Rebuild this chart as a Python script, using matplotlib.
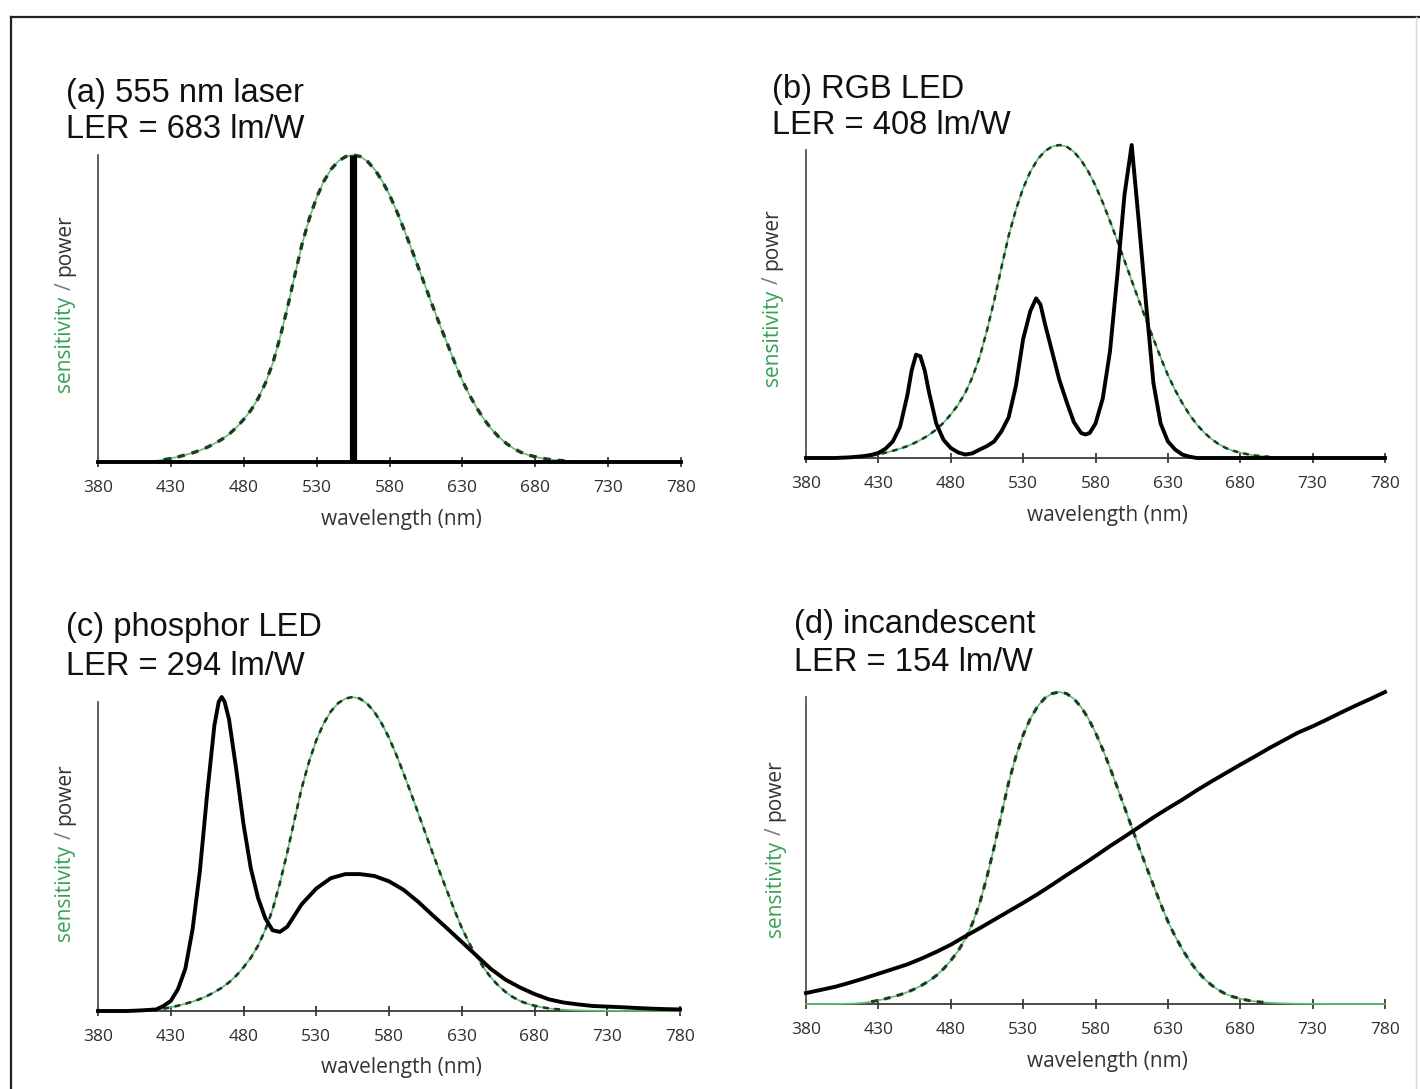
import numpy as np
import matplotlib
matplotlib.use("Agg")
import matplotlib.pyplot as plt
from matplotlib.lines import Line2D

# ---------------- data ----------------
ticks = [380, 430, 480, 530, 580, 630, 680, 730, 780]
tick_labels = [str(t) for t in ticks]

# eye sensitivity (photopic), 5 nm steps 380..780
v_wl = list(range(380, 785, 5))
v_sens = [0.000039, 0.000064, 0.00012, 0.000217, 0.000396, 0.00064, 0.00121, 0.00218,
          0.004, 0.0073, 0.0116, 0.01684, 0.023, 0.0298, 0.038, 0.048, 0.06, 0.0739,
          0.09098, 0.1126, 0.13902, 0.1693, 0.20802, 0.2586, 0.323, 0.4073, 0.503,
          0.6082, 0.71, 0.7932, 0.862, 0.91485, 0.954, 0.9803, 0.99495, 1.0, 0.995,
          0.9786, 0.952, 0.9154, 0.87, 0.8163, 0.757, 0.6949, 0.631, 0.5668, 0.503,
          0.4412, 0.381, 0.321, 0.265, 0.217, 0.175, 0.1382, 0.107, 0.0816, 0.061,
          0.04458, 0.032, 0.0232, 0.017, 0.01192, 0.00821, 0.005723, 0.004102,
          0.002929, 0.002091, 0.001484, 0.001047, 0.00074, 0.00052, 0.000361,
          0.000249, 0.000172, 0.00012, 0.0000848, 0.00006, 0.0000424, 0.00003,
          0.0000212, 0.000015]

# (a) laser
laser_wl = 555
laser_power = 1.0

# (b) RGB LED
rgb_wl = [380, 400, 410, 420, 425, 430, 435, 440, 445, 450, 453, 456, 459, 462, 465,
          470, 475, 480, 485, 490, 495, 500, 505, 510, 515, 520, 525, 530, 535, 539,
          542, 545, 550, 555, 560, 565, 570, 573, 576, 580, 585, 590, 595, 600, 605,
          610, 615, 620, 625, 630, 635, 640, 645, 650, 780]
rgb_pw = [0.0, 0.0, 0.002, 0.006, 0.01, 0.016, 0.03, 0.053, 0.10, 0.20, 0.28, 0.33,
          0.325, 0.28, 0.21, 0.11, 0.058, 0.032, 0.018, 0.011, 0.015, 0.027, 0.038,
          0.053, 0.085, 0.13, 0.23, 0.38, 0.47, 0.51, 0.49, 0.43, 0.34, 0.25, 0.18,
          0.115, 0.08, 0.075, 0.08, 0.11, 0.19, 0.34, 0.58, 0.84, 1.0, 0.75, 0.49,
          0.24, 0.11, 0.053, 0.027, 0.011, 0.004, 0.0, 0.0]

# (c) phosphor LED
ph_wl = [380, 400, 410, 420, 425, 430, 435, 440, 445, 450, 455, 460, 463, 465, 467,
         470, 475, 480, 485, 490, 495, 500, 505, 510, 520, 530, 540, 550, 560, 570,
         580, 590, 600, 610, 620, 630, 640, 650, 660, 670, 680, 690, 700, 710, 720,
         730, 740, 750, 760, 770, 780]
ph_pw = [0.0, 0.0, 0.002, 0.005, 0.016, 0.032, 0.07, 0.134, 0.26, 0.445, 0.69, 0.91,
         0.985, 1.0, 0.985, 0.93, 0.77, 0.595, 0.455, 0.36, 0.295, 0.257, 0.252, 0.268,
         0.34, 0.39, 0.423, 0.436, 0.436, 0.43, 0.413, 0.386, 0.348, 0.305, 0.263,
         0.22, 0.177, 0.134, 0.10, 0.075, 0.054, 0.037, 0.027, 0.021, 0.016, 0.014,
         0.012, 0.0096, 0.0075, 0.006, 0.005]

# (d) incandescent
inc_wl = list(range(380, 790, 10))
inc_pw = [0.035, 0.045, 0.055, 0.068, 0.082, 0.097, 0.112, 0.127, 0.146, 0.167, 0.19,
          0.217, 0.243, 0.27, 0.297, 0.324, 0.352, 0.382, 0.413, 0.443, 0.474, 0.506,
          0.536, 0.567, 0.598, 0.627, 0.655, 0.685, 0.713, 0.74, 0.767, 0.793, 0.82,
          0.845, 0.87, 0.89, 0.912, 0.935, 0.957, 0.978, 1.0]

titles = [("(a) 555 nm laser", "LER = 683 lm/W"),
          ("(b) RGB LED", "LER = 408 lm/W"),
          ("(c) phosphor LED", "LER = 294 lm/W"),
          ("(d) incandescent", "LER = 154 lm/W")]

# ---------------- layout (pixels) ----------------
W, H = 1420, 1089
fig = plt.figure(figsize=(W / 100, H / 100), dpi=100)
fig.patch.set_facecolor("white")

boxes = [(98, 681, 462, 155), (806, 1385, 458, 145), (98, 680, 1011, 697), (806, 1385, 1004, 692)]
title_pos = [((66, 102), (66, 138)), ((772, 98), (772, 134)),
             ((66, 636), (66, 675)), ((794, 633), (794, 671))]
ylab_pos = [(65, 303), (772, 297), (65, 852), (775, 848)]
dash_lw = [2.4, 1.8, 1.9, 2.2]

TFONT = ["Liberation Sans", "DejaVu Sans"]
LFONT = ["Open Sans", "DejaVu Sans"]
GREEN_TXT = "#33a154"
DASH_COL = "#1d3a24"
UNDER_COL = "#5cc46e"
AX_COL = "#3a3a3a"

# frame around the figure
fig.add_artist(Line2D([11 / W, 1.0], [1 - 17 / H, 1 - 17 / H], color="#222222", lw=1.6))
fig.add_artist(Line2D([11 / W, 11 / W], [0.0, 1 - 17 / H], color="#222222", lw=1.6))
fig.add_artist(Line2D([1416 / W, 1416 / W], [0.0, 1 - 17 / H], color="#d5d5d5", lw=1.0))

renderer = fig.canvas.get_renderer()


def ylabel(xc, yc, fs=15):
    parts = [("sensitivity", GREEN_TXT), ("/", "#777777"), ("power", "#333333")]
    gap = 0.30 * fs * 100 / 72
    objs, lens = [], []
    for s, c in parts:
        t = fig.text(0, 0, s, rotation=90, rotation_mode="anchor", ha="left", va="center",
                     color=c, fontsize=fs, family=LFONT)
        lens.append(t.get_window_extent(renderer).height)
        objs.append(t)
    total = sum(lens) + gap * (len(parts) - 1)
    y = (H - yc) - total / 2
    for t, L in zip(objs, lens):
        t.set_position((xc / W, y / H))
        y += L + gap


v_wl_arr = np.array(v_wl)
v_arr = np.array(v_sens)
visible = v_arr > 0.004  # dark dashes only where the curve rises off the axis

axes = []
for i, (l, r, b, t) in enumerate(boxes):
    ax = fig.add_axes([l / W, 1 - b / H, (r - l) / W, (b - t) / H])
    ax.set_xlim(380, 780)
    ax.set_ylim(0, 1)
    for s in ("top", "right"):
        ax.spines[s].set_visible(False)
    ax.spines["left"].set_color("#555555")
    ax.spines["left"].set_linewidth(1.3)
    ax.spines["bottom"].set_color(AX_COL)
    ax.spines["bottom"].set_linewidth(1.3)
    if i > 0:
        ax.spines["left"].set_bounds(0, 0.985)
    ax.set_yticks([])
    ax.set_xticks(ticks)
    ax.set_xticklabels(tick_labels, family=LFONT, fontsize=12.5, color="#2e2e2e")
    ax.tick_params(axis="x", direction="inout", length=7, width=1.3, color=AX_COL, pad=9.5)
    ax.patch.set_alpha(0)

    # sensitivity curve: thin green under-line with dark dashes on top
    ax.plot(v_wl, v_sens, color=UNDER_COL, lw=1.2, clip_on=False, zorder=3)
    ax.plot(v_wl_arr[visible], v_arr[visible], color=DASH_COL, lw=dash_lw[i],
            ls=(0, (2.2, 2.1)), clip_on=False, zorder=3.5, dash_capstyle="butt")

    (x1, y1), (x2, y2) = title_pos[i]
    fig.text(x1 / W, 1 - y1 / H, titles[i][0], family=TFONT, fontsize=23.5, va="baseline",
             ha="left", color="#111111")
    fig.text(x2 / W, 1 - y2 / H, titles[i][1], family=TFONT, fontsize=23.5, va="baseline",
             ha="left", color="#111111")

    cx = (l + r) / 2 + 12
    fig.text(cx / W, 1 - (b + 57) / H, "wavelength (nm)", family=LFONT, fontsize=15,
             ha="center", va="center", color="#333333")
    ylabel(*ylab_pos[i])
    axes.append(ax)

LW = 2.8
# (a) laser
axes[0].plot([380, 780], [0, 0], color="black", lw=LW, clip_on=False, zorder=4)
axes[0].vlines(laser_wl, 0, laser_power, color="black", lw=5.2, zorder=4, clip_on=False)
# (b) RGB LED
axes[1].plot(rgb_wl, rgb_pw, color="black", lw=LW, clip_on=False, zorder=4,
             solid_joinstyle="round")
# (c) phosphor LED
axes[2].plot(ph_wl, ph_pw, color="black", lw=LW, clip_on=False, zorder=4,
             solid_joinstyle="round")
# (d) incandescent
axes[3].plot(inc_wl, inc_pw, color="black", lw=LW, clip_on=False, zorder=4,
             solid_joinstyle="round")

fig.savefig("out.png", dpi=100, facecolor="white")
